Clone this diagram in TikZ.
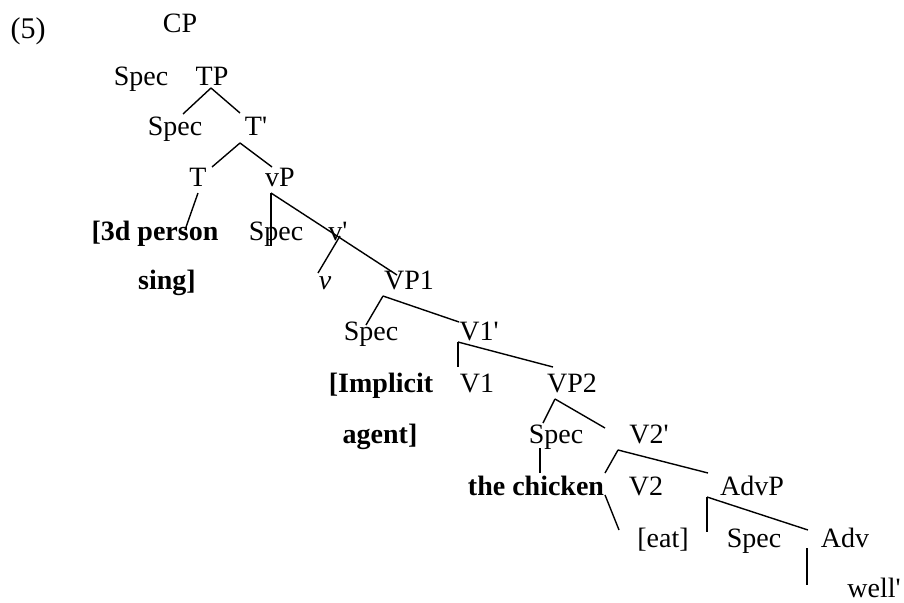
\documentclass[tikz,border=0pt]{standalone}
\usepackage{fontspec}
\setmainfont{Liberation Serif}
\newcommand{\pr}{\textquotesingle}
\begin{document}
\begin{tikzpicture}[x=1pt,y=-1pt,
  lbl/.style={anchor=base,inner sep=0pt,font=\fontsize{28}{30}\selectfont},
  blbl/.style={lbl,font=\fontsize{28}{30}\selectfont\bfseries},
  br/.style={line width=1.4pt,black}]
\useasboundingbox[fill=white] (0,0) rectangle (904,602);
% labels
\node[lbl,font=\fontsize{30}{32}\selectfont] (ex) at (28,39) {(5)};
\node[lbl] (CP) at (180,33) {CP};
\node[lbl] (specA) at (141,85) {Spec};
\node[lbl] (TP) at (212,85) {TP};
\node[lbl] (specB) at (175,135) {Spec};
\node[lbl] (Tbar) at (256,135) {T\pr};
\node[lbl] (T) at (198,186) {T};
\node[lbl] (vP) at (280,186) {vP};
\node[blbl] (pers) at (155,240) {[3d person};
\node[lbl] (specC) at (276,240) {Spec};
\node[lbl] (vbar) at (338,240) {v\pr};
\node[blbl] (sing) at (167,289) {sing]};
\node[lbl] (v) at (325,289) {\itshape v};
\node[lbl] (VPa) at (409,289) {VP1};
\node[lbl] (specD) at (371,340) {Spec};
\node[lbl] (Vabar) at (479,340) {V1\pr};
\node[blbl] (impl) at (381,392) {[Implicit};
\node[lbl] (Va) at (477,392) {V1};
\node[lbl] (VPb) at (572,392) {VP2};
\node[blbl] (agent) at (380,443) {agent]};
\node[lbl] (specE) at (556,443) {Spec};
\node[lbl] (Vbbar) at (649,443) {V2\pr};
\node[blbl] (chick) at (536,495) {the chicken};
\node[lbl] (Vb) at (646,495) {V2};
\node[lbl] (AdvP) at (752,495) {AdvP};
\node[lbl] (eat) at (663,547) {[eat]};
\node[lbl] (specF) at (754,547) {Spec};
\node[lbl] (Adv) at (845,547) {Adv};
\node[lbl] (well) at (874,597) {well\pr};
% branch end points
\coordinate (TPb) at (211,88);
\coordinate (specBt) at (183,114);
\coordinate (Tbart) at (240,113);
\coordinate (Tbarb) at (240,143);
\coordinate (Tt) at (212,167);
\coordinate (vPt) at (272,167);
\coordinate (Tb) at (198,193);
\coordinate (perst) at (185,230);
\coordinate (vPb) at (271,193);
\coordinate (specCt) at (271,246);
\coordinate (VPat) at (397,275);
\coordinate (vbarb) at (340,236);
\coordinate (vt) at (318,273);
\coordinate (VPab) at (383,296);
\coordinate (specDt) at (366,325);
\coordinate (Vabart) at (459,322);
\coordinate (Vabarb) at (458,342);
\coordinate (Vat) at (458,367);
\coordinate (VPbt) at (553,367);
\coordinate (VPbb) at (555,399);
\coordinate (specEt) at (543,423);
\coordinate (Vbbart) at (605,428);
\coordinate (specEb) at (540,448);
\coordinate (chickt) at (540,473);
\coordinate (Vbbarb) at (618,450);
\coordinate (Vbt) at (605,473);
\coordinate (AdvPt) at (708,473);
\coordinate (Vbb) at (605,495);
\coordinate (eatt) at (619,530);
\coordinate (AdvPb) at (707,497);
\coordinate (specFt) at (707,532);
\coordinate (Advt) at (808,530);
\coordinate (Advb) at (807,548);
\coordinate (wellt) at (807,585);
% branches
\draw[br] (TPb) -- (specBt);
\draw[br] (TPb) -- (Tbart);
\draw[br] (Tbarb) -- (Tt);
\draw[br] (Tbarb) -- (vPt);
\draw[br] (Tb) -- (perst);
\draw[br] (vPb) -- (specCt);
\draw[br] (vPb) -- (VPat);
\draw[br] (vbarb) -- (vt);
\draw[br] (VPab) -- (specDt);
\draw[br] (VPab) -- (Vabart);
\draw[br] (Vabarb) -- (Vat);
\draw[br] (Vabarb) -- (VPbt);
\draw[br] (VPbb) -- (specEt);
\draw[br] (VPbb) -- (Vbbart);
\draw[br] (specEb) -- (chickt);
\draw[br] (Vbbarb) -- (Vbt);
\draw[br] (Vbbarb) -- (AdvPt);
\draw[br] (Vbb) -- (eatt);
\draw[br] (AdvPb) -- (specFt);
\draw[br] (AdvPb) -- (Advt);
\draw[br] (Advb) -- (wellt);
\end{tikzpicture}
\end{document}
